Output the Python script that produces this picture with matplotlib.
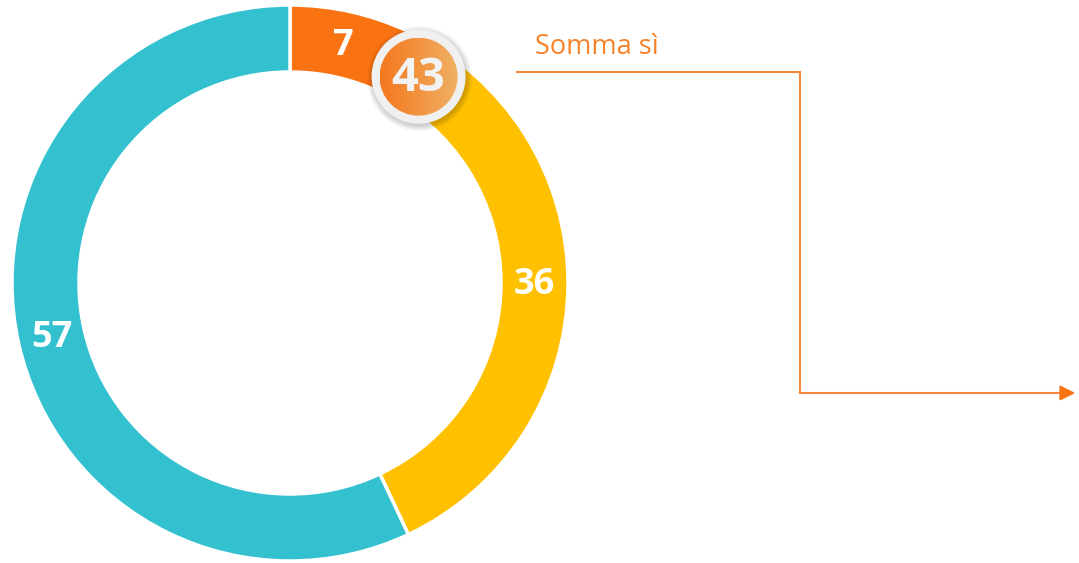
import numpy as np
import matplotlib.pyplot as plt
from matplotlib.patches import Circle

values = [7, 36, 57]
labels = ["7", "36", "57"]
colors = ["#FA7313", "#FFC000", "#33C1D0"]
somma_si = 43
somma_label = "Somma sì"

W, H = 1079, 563
fig = plt.figure(figsize=(W / 100, H / 100), dpi=100)
ax = fig.add_axes([0, 0, 1, 1])

cx, cy = 290, H - 283
r_out, ring = 278, 67
r_mid = r_out - ring / 2

ax.pie(values, radius=r_out, center=(cx, cy), startangle=90, counterclock=False,
       colors=colors, wedgeprops=dict(width=ring, edgecolor="white", linewidth=2.5),
       frame=True)
ax.set_xlim(0, W)
ax.set_ylim(0, H)
ax.set_aspect("equal")
ax.axis("off")

# value labels at middle of ring
start = 0
for v, lab in zip(values, labels):
    mid = np.radians((start + v / 2) / sum(values) * 360)
    start += v
    ax.text(cx + r_mid * np.sin(mid), cy + r_mid * np.cos(mid) - 2, lab,
            ha="center", va="center", color="white", fontsize=26,
            fontweight="bold", family="Open Sans")

# badge with total of "sì"
ang = np.radians(32)
bx, by = cx + r_mid * np.sin(ang) - 1, cy + r_mid * np.cos(ang) - 1
for k in range(8):
    ax.add_patch(Circle((bx + 1, by - 2), 47 + k * 0.8, color="black",
                        alpha=0.025, zorder=3, lw=0))
ax.add_patch(Circle((bx, by), 47, color="#F0F0F0", zorder=4, lw=0))
grad = np.linspace(0, 1, 256).reshape(1, -1)
c1 = np.array([0xF4, 0x78, 0x1E]) / 255
c2 = np.array([0xF0, 0xB0, 0x64]) / 255
img = c1[None, None, :] * (1 - grad[..., None]) + c2[None, None, :] * grad[..., None]
r_in = 39
im = ax.imshow(img, extent=(bx - r_in, bx + r_in, by - r_in, by + r_in),
               zorder=5, aspect="auto")
clip = Circle((bx, by), r_in, transform=ax.transData)
im.set_clip_path(clip)
ax.text(bx, by - 2, str(somma_si), ha="center", va="center", color="#F2F2F2",
        fontsize=34, fontweight="bold", family="Open Sans", zorder=6)

# callout text and connector
ax.text(535, H - 47, somma_label, ha="left", va="center", color="#F5822A",
        fontsize=19.5, family="Open Sans")
line_c = "#F7873A"
ax.plot([517, 800, 800, 1062], [H - 72, H - 72, H - 393, H - 393],
        color=line_c, lw=1.5, solid_joinstyle="miter")
ax.annotate("", xy=(1078, H - 393), xytext=(1060, H - 393),
            arrowprops=dict(arrowstyle="-|>,head_length=0.9,head_width=0.45",
                            color="#FA7313", lw=1.5))

fig.savefig("out.png", dpi=100)
